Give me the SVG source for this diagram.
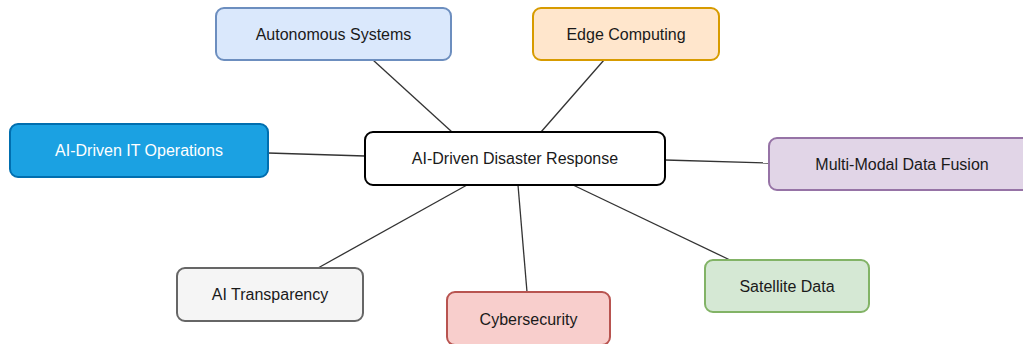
<svg xmlns="http://www.w3.org/2000/svg" width="1023" height="344" viewBox="0 0 1023 344">
<style>
.n rect{stroke-width:2}
.n text{font-family:"Liberation Sans",Arial,sans-serif;font-size:16px;fill:#1a1a1a;text-anchor:middle;dominant-baseline:central}
.c line{stroke:#333;stroke-width:1.3}
</style>
<rect width="1023" height="344" fill="#fff"/>
<g id="connectors" class="c">
<line x1="373" y1="60" x2="452" y2="132"/>
<line x1="604" y1="60" x2="541" y2="132"/>
<line x1="268" y1="153" x2="365" y2="156"/>
<line x1="665" y1="160" x2="769" y2="163"/>
<line x1="318" y1="268" x2="467" y2="185"/>
<line x1="527" y1="292" x2="518" y2="185"/>
<line x1="730" y1="260" x2="573" y2="185"/>
</g>
<g id="center" class="n"><rect x="365" y="132" width="300" height="53" rx="8" fill="#fff" stroke="#000"/><text x="515" y="158.5">AI-Driven Disaster Response</text></g>
<g id="autonomous" class="n"><rect x="216" y="8" width="235" height="52" rx="8" fill="#dae8fc" stroke="#6c8ebf"/><text x="333.5" y="34">Autonomous Systems</text></g>
<g id="edge" class="n"><rect x="533" y="8" width="186" height="52" rx="8" fill="#ffe6cc" stroke="#d79b00"/><text x="626" y="34">Edge Computing</text></g>
<g id="itops" class="n"><rect x="10" y="124" width="258" height="53" rx="8" fill="#1ba1e2" stroke="#006eaf"/><text x="139" y="150.5" style="fill:#fff">AI-Driven IT Operations</text></g>
<g id="fusion" class="n"><rect x="769" y="138" width="266" height="52" rx="8" fill="#e1d5e7" stroke="#9673a6"/><text x="902" y="164">Multi-Modal Data Fusion</text></g>
<g id="transparency" class="n"><rect x="177" y="268" width="186" height="53" rx="8" fill="#f5f5f5" stroke="#666"/><text x="270" y="294.5">AI Transparency</text></g>
<g id="cyber" class="n"><rect x="447" y="292" width="163" height="53" rx="8" fill="#f8cecc" stroke="#b85450"/><text x="528.5" y="319">Cybersecurity</text></g>
<g id="satellite" class="n"><rect x="705" y="260" width="164" height="52" rx="8" fill="#d5e8d4" stroke="#82b366"/><text x="787" y="286">Satellite Data</text></g>
</svg>
